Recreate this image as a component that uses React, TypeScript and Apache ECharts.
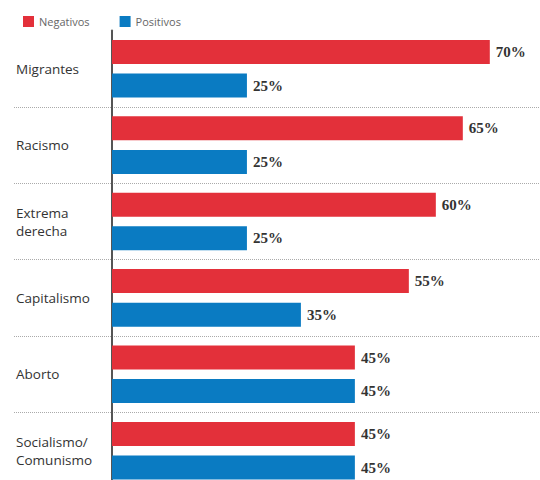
import React, { useEffect, useRef } from "react";
import * as echarts from "echarts";

const categories = ["Migrantes", "Racismo", "Extrema\nderecha", "Capitalismo", "Aborto", "Socialismo/\nComunismo"];
const negativos = [70, 65, 60, 55, 45, 45];
const positivos = [25, 25, 25, 35, 45, 45];
const seriesNames = ["Negativos", "Positivos"];

const RED = "#e3303a";
const BLUE = "#0a7bc2";

export default function App() {
  const ref = useRef<HTMLDivElement>(null);
  useEffect(() => {
    if (!ref.current) return;
    const chart = echarts.init(ref.current, null, { renderer: "svg" });
    const labelStyle = {
      show: true,
      position: "right",
      distance: 6,
      formatter: "{c}%",
      fontFamily: "Liberation Serif",
      fontWeight: "bold",
      fontSize: 15,
      color: "#333",
    };
    chart.setOption({
      animation: false,
      backgroundColor: "#fff",
      legend: {
        left: 18,
        top: 11,
        itemWidth: 11,
        itemHeight: 11,
        itemGap: 30,
        icon: "rect",
        textStyle: { fontFamily: "Open Sans", fontSize: 11, color: "#666" },
        data: seriesNames,
      },
      grid: [
        { left: 112, right: 0, top: 30.5, height: 458.4 },
        { left: 14, right: 0, top: 30.5, height: 458.4 },
      ],
      xAxis: [
        { type: "value", gridIndex: 0, min: 0, max: 79.3, show: false },
        { type: "value", gridIndex: 1, min: 0, max: 1, show: false },
      ],
      yAxis: [
        {
          type: "category",
          gridIndex: 0,
          inverse: true,
          data: categories,
          axisLine: { show: true, lineStyle: { color: "#555", width: 2 } },
          axisTick: { show: false },
          splitLine: { show: false },
          axisLabel: {
            align: "left",
            margin: 96,
            fontFamily: "Open Sans",
            fontSize: 13.5,
            lineHeight: 18,
            color: "#333",
          },
        },
        {
          type: "category",
          gridIndex: 1,
          inverse: true,
          data: categories,
          axisLine: { show: false },
          axisTick: { show: false },
          axisLabel: { show: false },
          splitLine: {
            show: true,
            interval: (i: number) => i > 0,
            lineStyle: { color: "#aaa", type: "dotted", width: 1 },
          },
        },
      ],
      series: [
        {
          name: seriesNames[0],
          type: "bar",
          xAxisIndex: 0,
          yAxisIndex: 0,
          data: negativos,
          barWidth: 24,
          barGap: "40%",
          itemStyle: { color: RED },
          label: labelStyle,
          z: 3,
        },
        {
          name: seriesNames[1],
          type: "bar",
          xAxisIndex: 0,
          yAxisIndex: 0,
          data: positivos,
          barWidth: 24,
          barGap: "40%",
          itemStyle: { color: BLUE },
          label: labelStyle,
          z: 3,
        },
      ],
    });
    return () => chart.dispose();
  }, []);
  return (
    <div style={{ position: "fixed", left: 0, top: 0, width: 540, height: 480, overflow: "hidden", background: "#fff" }}>
      <div ref={ref} style={{ width: 540, height: 500 }} />
    </div>
  );
}
